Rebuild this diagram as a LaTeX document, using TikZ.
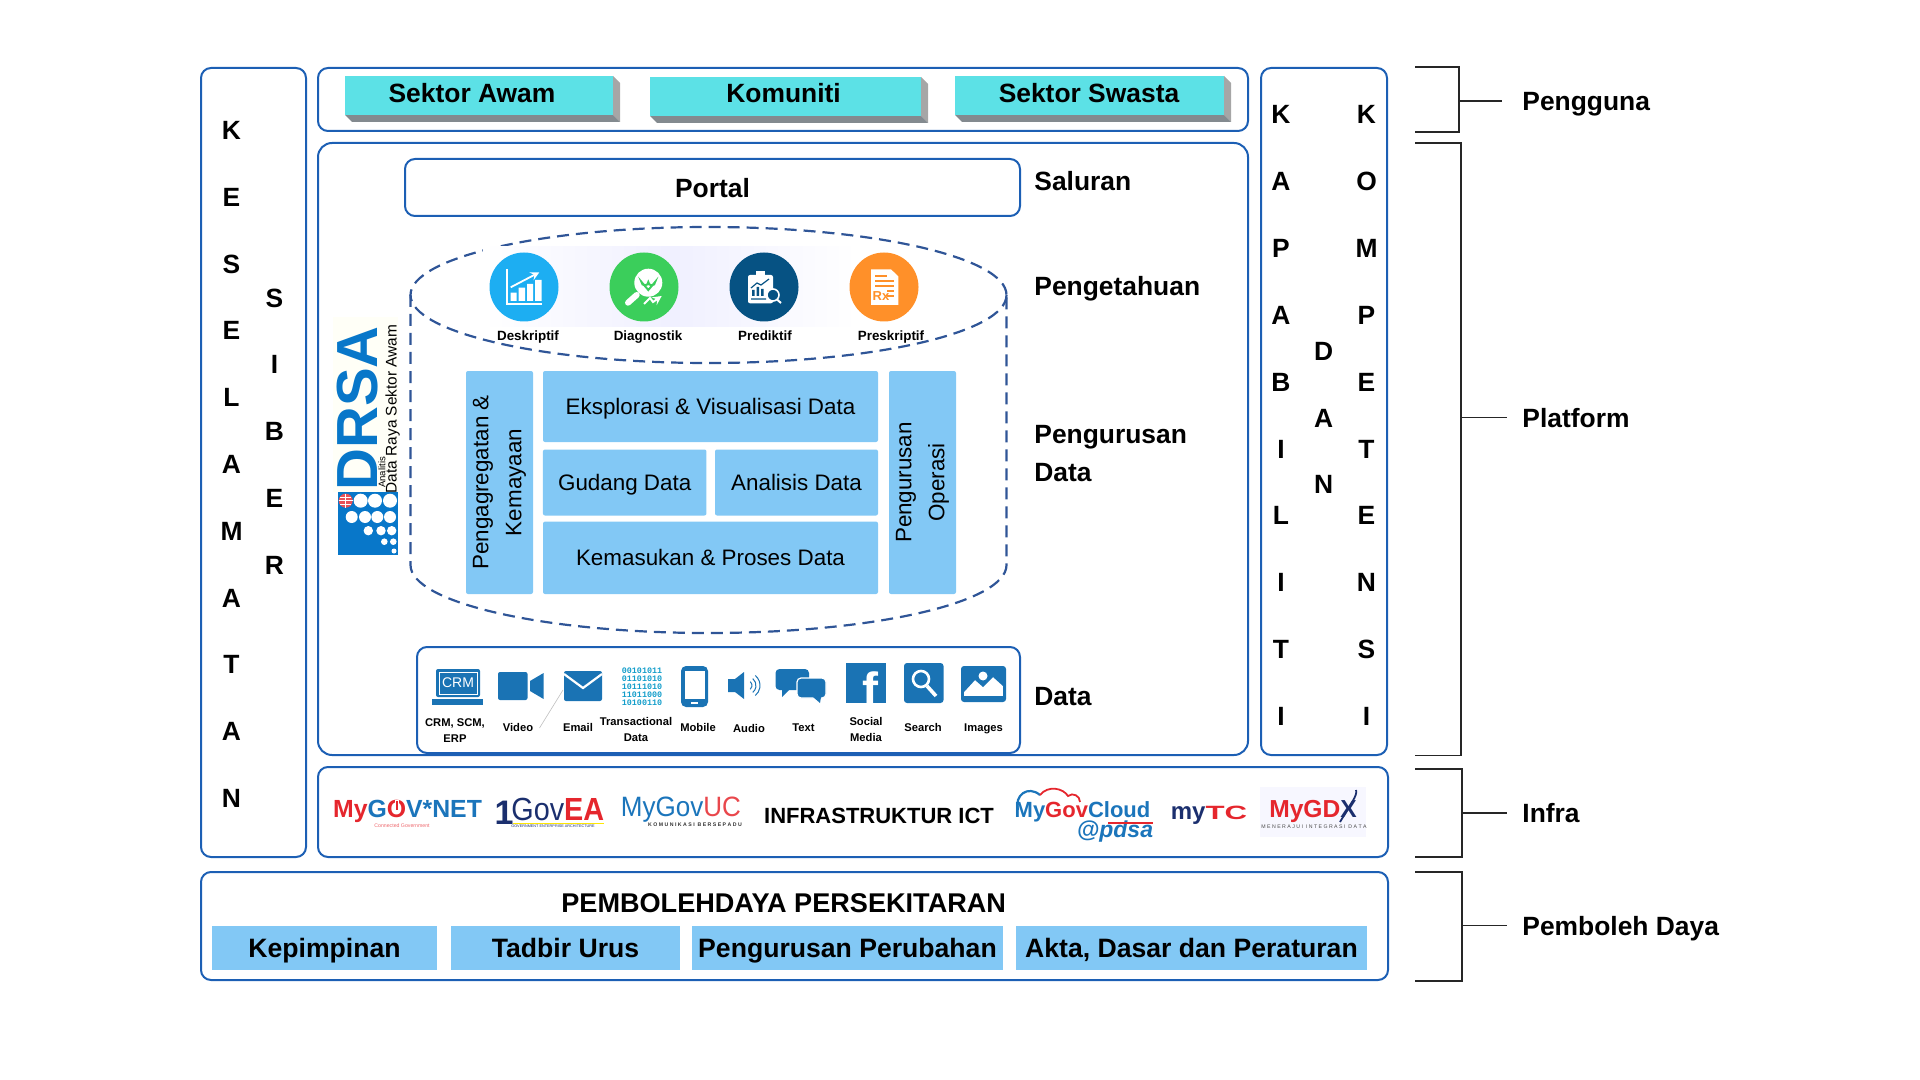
\documentclass[tikz,border=0pt]{standalone}
\usepackage{fontspec}
\setmainfont{Liberation Sans}
\newfontfamily\binfont{Liberation Mono}
\definecolor{garis}{HTML}{1C5FB4}
\definecolor{putus}{HTML}{2F5597}
\definecolor{panel}{HTML}{82C8F5}
\definecolor{sian}{HTML}{5CE1E6}
\definecolor{ikon}{HTML}{1A73B4}
\definecolor{drsa}{HTML}{0877C9}
\definecolor{navy}{HTML}{1B2F6E}
\definecolor{merah}{HTML}{E5262D}
\definecolor{biru}{HTML}{1B75BB}
\definecolor{ikbiru}{HTML}{1DAEF2}
\definecolor{ikhijau}{HTML}{3BCE5B}
\definecolor{iknavy}{HTML}{065283}
\definecolor{ikoren}{HTML}{FF9029}
\tikzset{
	frame/.style={draw=garis,line width=1pt,rounded corners=5pt},
	panelbox/.style={fill=panel,rounded corners=1pt,inner sep=0pt,font=\fontsize{11.2pt}{14pt}\selectfont,align=center},
	sebaris/.style={panelbox,text height=8pt,text depth=0pt},
	daya/.style={fill=panel,inner sep=0pt,text height=9.5pt,text depth=0pt,font=\fontsize{13.3pt}{16pt}\selectfont\bfseries},
	tajuk/.style={font=\fontsize{13.2pt}{16pt}\selectfont\bfseries,inner sep=0pt,text height=9.5pt,text depth=0pt},
	huruf/.style={tajuk},
	kecil/.style={font=\fontsize{5.6pt}{7pt}\selectfont\bfseries,inner sep=0pt},
	satu/.style={kecil,text height=4pt,text depth=0pt},
	tengah/.style={font=\fontsize{6.7pt}{8pt}\selectfont\bfseries,inner sep=0pt,text height=4.8pt,text depth=0pt},
	kurung/.style={draw=black!85,line width=.8pt},
	sub/.style={inner sep=0pt,font=\fontsize{2.6pt}{3pt}\selectfont},
}
\begin{document}
\begin{tikzpicture}[x=.5pt,y=-.5pt]
	\useasboundingbox (0,0) rectangle (1920,1080);
	% outer frames
	\draw[frame] (201,68) rectangle (306,857);
	\draw[frame] (318,68) rectangle (1248,131);
	\draw[frame,rounded corners=7pt] (318,143) rectangle (1248,755);
	\draw[frame] (1261,68) rectangle (1387,755);
	\draw[frame] (318,767) rectangle (1388,857);
	\draw[frame] (201,872) rectangle (1388,980);
	% vertical words
	\foreach \c [count=\i from 0] in {K,E,S,E,L,A,M,A,T,A,N}
		\node[huruf] (kes\i) at (231.5,{130+\i*66.8}) {\c};
	\foreach \c [count=\i from 0] in {S,I,B,E,R}
		\node[huruf] (sib\i) at (274.5,{297.6+\i*66.8}) {\c};
	\foreach \c [count=\i from 0] in {K,A,P,A,B,I,L,I,T,I}
		\node[huruf] (kap\i) at (1281,{114+\i*66.9}) {\c};
	\foreach \c [count=\i from 0] in {K,O,M,P,E,T,E,N,S,I}
		\node[huruf] (kom\i) at (1366.5,{114+\i*66.9}) {\c};
	\foreach \c [count=\i from 0] in {D,A,N}
		\node[huruf] (dan\i) at (1323.7,{351.4+\i*66.2}) {\c};
	% users
	\foreach \n/\xa/\xb/\ya/\xt/\t in {awam/345/613/76/472/Sektor Awam,komuniti/650/921/77/783.6/Komuniti,swasta/955/1224/76/1089/Sektor Swasta}{
		\fill[black!35] (\xb,\ya) -- (\xb+7,\ya+7) -- (\xb+7,\ya+46) -- (\xb,\ya+39) -- cycle;
		\fill[black!50!cyan!20!gray] (\xa,\ya+39) -- (\xb,\ya+39) -- (\xb+7,\ya+46) -- (\xa+7,\ya+46) -- cycle;
		\fill[sian] (\xa,\ya) rectangle (\xb,\ya+39);
		\node[tajuk] (\n) at (\xt,93) {\t};
	}
	% channel
	\draw[frame] (405,159) rectangle (1020,216);
	\node[tajuk] (portal) at (712.5,188) {Portal};
	\node[tajuk,anchor=west] (saluran) at (1034,181) {Saluran};
	\node[tajuk,anchor=west] (pengetahuan) at (1034,286.5) {Pengetahuan};
	\node[inner sep=0pt,anchor=west,align=left,font=\fontsize{13.2pt}{19pt}\selectfont\bfseries] (pengurusan) at (1034,453.5) {Pengurusan\\Data};
	\node[tajuk,anchor=west] (data) at (1034,695.5) {Data};
	% cylinder
	\draw[putus,line width=1.1pt,dash pattern=on 6pt off 3.5pt] (708.5,295) ellipse [x radius=298,y radius=68];
	\draw[putus,line width=1.1pt,dash pattern=on 6pt off 3.5pt] (410.5,295) -- (410.5,565) arc[start angle=180,end angle=0,x radius=298,y radius=68] -- (1006.5,295);
	\shade[left color=white,right color=white,middle color=blue!6] (483,247) rectangle (857,327);
	% knowledge icons
	\fill[ikbiru] (524,287) circle (34.5);
	\fill[ikhijau] (644,287) circle (34.5);
	\fill[iknavy] (764,287) circle (34.5);
	\fill[ikoren] (884,287) circle (34.5);
	\draw[white,line width=.9pt] (506.7,269) -- (506.7,304) -- (542,304);
	\fill[white] (510.7,292.7) rectangle (516.7,301) (518.7,287.7) rectangle (525,301) (527,284) rectangle (533,301) (535,280) rectangle (541.7,301);
	\draw[white,line width=.9pt,-stealth] (510.7,287.3) -- (539.3,272.3);
	\fill[white] (648.3,282.7) circle (14);
	\draw[ikhijau,line width=1pt] (648.3,290) -- (641.5,282) arc[start angle=180,end angle=0,radius=3.4] arc[start angle=180,end angle=0,radius=3.4] -- cycle;
	\draw[white,line width=3pt,line cap=round] (628,302.7) -- (636.7,295);
	\draw[white,line width=1pt,-stealth] (644,304) -- (650,298) -- (653,302) -- (661.7,296);
	\fill[white,rounded corners=1pt] (748,275) rectangle (773,303.3);
	\fill[white] (756,271) rectangle (765,277);
	\fill[iknavy] (752,290) rectangle (754.5,296) (756.5,287) rectangle (759,296) (761,289) rectangle (763.5,296);
	\draw[iknavy,line width=.6pt] (751,288) -- (757,283) -- (761,285) -- (769,279) (751,299) -- (766,299);
	\draw[white,fill=iknavy,line width=.8pt] (773,295) circle (6);
	\draw[white,line width=1pt] (777,299.5) -- (781,303);
	\fill[white] (871,269.3) -- (891,269.3) -- (898.3,276.5) -- (898.3,305) -- (871,305) -- cycle;
	\draw[ikoren,line width=.7pt] (875,276) -- (887,276) (875,281) -- (894,281) (875,286) -- (894,286) (887,291) -- (894,291) (887,296) -- (894,296);
	\node[inner sep=0pt,text=ikoren,font=\fontsize{6.5pt}{7pt}\selectfont\bfseries] (rx) at (881,296) {Rx};
	\node[tengah] (deskriptif) at (528,336) {Deskriptif};
	\node[tengah] (diagnostik) at (648,336) {Diagnostik};
	\node[tengah] (prediktif) at (765,336) {Prediktif};
	\node[tengah] (preskriptif) at (891,336) {Preskriptif};
	% data management
	\node[panelbox,minimum width=33.5pt,minimum height=111.5pt] (agregat) at (499.5,482.5) {\rotatebox{90}{\parbox{100pt}{\centering\fontsize{11.2pt}{16.5pt}\selectfont Pengagregatan \&\\Kemayaan}}};
	\node[sebaris,minimum width=167.5pt,minimum height=35.5pt] (eksplorasi) at (710.5,406.5) {Eksplorasi \& Visualisasi Data};
	\node[sebaris,minimum width=81.75pt,minimum height=33pt] (gudang) at (624.7,482.5) {Gudang Data};
	\node[sebaris,minimum width=81.5pt,minimum height=33pt] (analisis) at (796.5,482.5) {Analisis Data};
	\node[sebaris,minimum width=167.5pt,minimum height=36.2pt] (kemasukan) at (710.5,557.8) {Kemasukan \& Proses Data};
	\node[panelbox,minimum width=33.5pt,minimum height=111.5pt] (operasi) at (922.5,482.5) {\rotatebox{90}{\parbox{100pt}{\centering\fontsize{11.2pt}{16.5pt}\selectfont Pengurusan\\Operasi}}};
	% logo DRSA
	\fill[yellow!3] (333,317) rectangle (398,492);
	\node[inner sep=0pt,text=drsa,rotate=90,font=\fontsize{29pt}{29pt}\selectfont\bfseries] (drsatext) at (358,408.5) {DRSA};
	\node[inner sep=0pt,rotate=90,font=\fontsize{7.7pt}{8pt}\selectfont] (raya) at (392.7,409) {Data Raya Sektor Awam};
	\node[inner sep=0pt,rotate=90,font=\fontsize{4.8pt}{5pt}\selectfont] (analitis) at (382,472.5) {Analitis};
	\fill[drsa] (338,492) rectangle (398,555);
	\fill[merah!80!white] (345.7,500.7) circle (7);
	\draw[white,line width=.25pt] (345.7,493.7) -- (345.7,507.7) (338.7,500.7) -- (352.7,500.7) (340,497) -- (351.4,497) (340,504.4) -- (351.4,504.4);
	\foreach \x in {360.7,375,390} \fill[white] (\x,500.7) circle (7);
	\foreach \x in {351.7,365,377.3,390} \fill[white] (\x,517) circle (6);
	\foreach \x in {368.3,381,391.7} \fill[white] (\x,530.7) circle (4.7);
	\foreach \x in {384.3,393.3} \fill[white] (\x,541.7) circle (3.3);
	\fill[white] (394,551) circle (2.5);
	% data sources
	\draw[frame] (417,647) rectangle (1020,753);
	% crm
	\fill[ikon,rounded corners=1pt] (436,669) rectangle (480,697);
	\draw[white,line width=.5pt] (439,672) rectangle (477,694);
	\node[inner sep=0pt,text=white,font=\fontsize{7pt}{8pt}\selectfont] (crm) at (458,683) {CRM};
	\fill[ikon] (432,699) rectangle (483,705);
	% video
	\fill[ikon,rounded corners=1pt] (498,672) rectangle (527.5,700);
	\fill[ikon] (530,681) -- (543.6,673) -- (543.6,699) -- (530,691) -- cycle;
	% email
	\fill[ikon,rounded corners=1pt] (564,671) rectangle (602,701);
	\draw[white,line width=1.1pt] (564,674) -- (583,688) -- (602,674);
	\draw[gray!50,line width=.3pt] (563,690) -- (539.5,728);
	% binary
	\node[inner sep=0pt,align=center,text=ikon!70!cyan,font=\fontsize{4.2pt}{4pt}\selectfont\binfont\bfseries] (biner) at (642,687) {00101011\\01101010\\10111010\\11011000\\10100110};
	% mobile
	\fill[ikon,rounded corners=2.5pt] (681,666) rectangle (708,707);
	\fill[white] (684.5,671) rectangle (704.5,699);
	\fill[white] (691,702) rectangle (698,704);
	% audio
	\fill[ikon] (728,679) -- (735,679) -- (744,672) -- (744,699) -- (735,692) -- (728,692) -- cycle;
	\foreach \r in {5,9,13}
		\draw[ikon,line width=.5pt] (747,685.5) ++(-50:\r) arc[start angle=-50,end angle=50,radius=\r];
	% chat
	\fill[ikon,rounded corners=2pt] (775.5,669) rectangle (809,690);
	\fill[ikon] (782,689) -- (782,697) -- (790,689) -- cycle;
	\fill[ikon,rounded corners=2pt,draw=white,line width=.6pt] (797,678) rectangle (826,698);
	\fill[ikon] (813,697) -- (820,703) -- (821,697) -- cycle;
	% facebook
	\fill[ikon] (846,663) rectangle (886,703);
	\node[inner sep=0pt,text=white,anchor=south,font=\fontsize{24pt}{24pt}\selectfont\bfseries] (fb) at (870,707) {f};
	\fill[white] (846,703) rectangle (886,706);
	% search
	\fill[ikon,rounded corners=1.5pt] (904,663) rectangle (943.5,703);
	\draw[white,line width=1.3pt] (921,679) circle (8);
	\draw[white,line width=1.8pt] (927,686) -- (936,696);
	% images
	\fill[ikon,rounded corners=1.5pt] (961,666) rectangle (1006,702);
	\fill[white] (964,669) rectangle (1003,696);
	\fill[ikon] (964,669) -- (1003,669) -- (1003,686) -- (993,677) -- (983,687) -- (975,680) -- (964,692) -- cycle;
	\fill[white] (983,676) circle (4.5);
	% data labels
	\node[kecil,align=center,font=\fontsize{5.6pt}{8pt}\selectfont\bfseries] (crmlbl) at (455,731) {CRM, SCM,\\ERP};
	\node[satu] (videolbl) at (518,727) {Video};
	\node[satu] (emaillbl) at (578,727) {Email};
	\node[kecil,align=center,font=\fontsize{5.6pt}{8pt}\selectfont\bfseries] (translbl) at (636,729) {Transactional\\Data};
	\node[satu] (mobilelbl) at (698,727) {Mobile};
	\node[satu] (audiolbl) at (749,728) {Audio};
	\node[satu] (textlbl) at (803.5,727) {Text};
	\node[kecil,align=center,font=\fontsize{5.6pt}{7.6pt}\selectfont\bfseries] (sociallbl) at (866,729.5) {Social\\Media};
	\node[satu] (searchlbl) at (923,727) {Search};
	\node[satu] (imageslbl) at (983.5,727) {Images};
	% infra logos
	\node[inner sep=0pt,font=\fontsize{12.4pt}{13pt}\selectfont\bfseries] (mygovnet) at (407.5,811) {\textcolor{merah}{My}\textcolor{biru}{G}\textcolor{merah}{O}\textcolor{biru}{V*NET}};
	\draw[white,line width=1.6pt] (397,800) -- (397,808);
	\draw[merah,line width=.9pt] (397,801) -- (397,810);
	\node[sub,text=merah!70] (connected) at (402,826) {Connected Government};
	\node[inner sep=0pt,text=navy,font=\fontsize{17pt}{18pt}\selectfont\bfseries] (satu) at (504,813) {1};
	\node[inner sep=0pt,anchor=west,font=\fontsize{16pt}{17pt}\selectfont] (goveat) at (511,809) {\scalebox{.9}[1]{\textcolor{navy}{Gov}\textcolor{merah}{\bfseries EA}}};
	\node[sub,text=navy,font=\fontsize{1.9pt}{2pt}\selectfont] (gea) at (553,826.5) {GOVERNMENT ENTERPRISE ARCHITECTURE};
	\fill[yellow!90!orange] (513,822.5) rectangle (604,823.5);
	\node[inner sep=0pt,font=\fontsize{14pt}{15pt}\selectfont] (mygovuc) at (681,810) {\scalebox{.93}[1]{\textcolor{biru}{MyGov}\textcolor{merah!85}{UC}}};
	\node[sub,font=\fontsize{2.6pt}{3pt}\selectfont\bfseries,text=black!80] (komunikasi) at (695,825) {K O M U N I K A S I\ \ B E R S E P A D U};
	\node[inner sep=0pt,font=\fontsize{11pt}{12pt}\selectfont\bfseries] (infra) at (879,815.7) {INFRASTRUKTUR ICT};
	\draw[biru,line width=1.1pt] (1018,810) .. controls (1014,795) and (1028,785) .. (1040,795);
	\draw[merah,line width=.9pt] (1040,795) .. controls (1048,785) and (1063,788) .. (1068,796) .. controls (1073,792) and (1080,796) .. (1080,802);
	\node[inner sep=0pt,font=\fontsize{11pt}{12pt}\selectfont\bfseries] (mygovcloud) at (1082.5,812) {\textcolor{biru}{My}\textcolor{merah}{Gov}\textcolor{biru}{Cloud}};
	\node[inner sep=0pt,font=\fontsize{11.5pt}{12pt}\selectfont\bfseries\itshape,text=biru] (pdsa) at (1115,832) {@pdsa};
	\draw[merah,line width=.7pt] (1108,823) -- (1153,823);
	\node[inner sep=0pt,font=\fontsize{12pt}{13pt}\selectfont\bfseries] (mytc) at (1209,815) {\textcolor{navy}{my}\scalebox{1.3}[.8]{\textcolor{merah}{TC}}};
	\fill[blue!3] (1260,787) rectangle (1366,837);
	\node[inner sep=0pt,font=\fontsize{12.3pt}{13pt}\selectfont\bfseries] (mygdx) at (1313,811) {\textcolor{merah}{MyGD}\textcolor{navy}{X}};
	\draw[navy,line width=.9pt] (1340,822) .. controls (1350,805) and (1358,795) .. (1356,790);
	\node[sub,font=\fontsize{2.6pt}{3pt}\selectfont,text=black!70] (merajui) at (1314,827) {M E N E R A J U I\ \ I N T E G R A S I\ \ D A T A};
	% enablers
	\node[tajuk,font=\fontsize{13.55pt}{16pt}\selectfont\bfseries] (pemboleh) at (783.7,902.5) {PEMBOLEHDAYA PERSEKITARAN};
	\node[daya,minimum width=112.5pt,minimum height=22pt] (kepimpinan) at (324.5,948) {Kepimpinan};
	\node[daya,minimum width=114.5pt,minimum height=22pt] (tadbir) at (565.5,948) {Tadbir Urus};
	\node[daya,minimum width=155.5pt,minimum height=22pt] (perubahan) at (847.5,948) {Pengurusan Perubahan};
	\node[daya,minimum width=175.5pt,minimum height=22pt] (akta) at (1191.5,948) {Akta, Dasar dan Peraturan};
	% brackets
	\foreach \n/\ya/\yb/\xk/\yt/\xt/\t in {a/67/132/1459/101/1502/Pengguna,b/143/755.5/1461/417.6/1507/Platform,c/769/857/1462/813/1507/Infra,d/872/981/1462/925.7/1507/Pemboleh Daya}{
		\coordinate (atas\n) at (1415,\ya);
		\coordinate (bawah\n) at (1415,\yb);
		\coordinate (ujung\n) at (\xt,\yt);
		\draw[kurung] (atas\n) -- (\xk,\ya) -- (\xk,\yb) -- (bawah\n);
		\draw[kurung,line width=.6pt] (\xk,\yt) -- (ujung\n);
		\node[tajuk,anchor=west] (lbl\n) at (1522,\yt) {\t};
	}
\end{tikzpicture}
\end{document}
